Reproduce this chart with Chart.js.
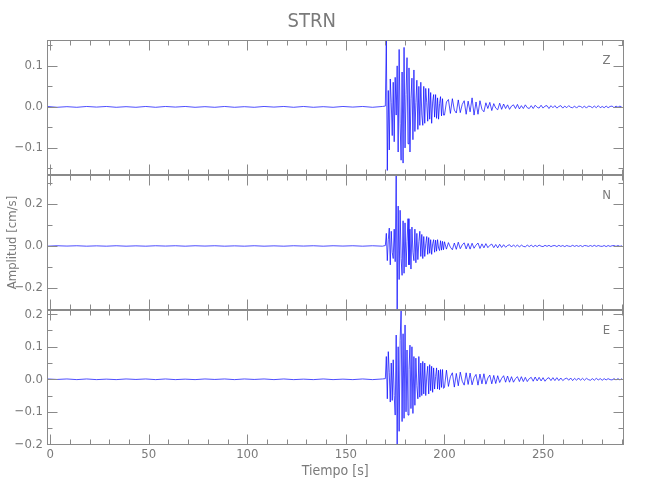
<!DOCTYPE html>
<html>
<head>
<meta charset="utf-8">
<title>STRN</title>
<script src="https://cdn.jsdelivr.net/npm/chart.js@4.4.1/dist/chart.umd.min.js"></script>
<style>
  html, body { margin: 0; padding: 0; background: #fff; }
  #wrap { width: 650px; height: 500px; }
</style>
</head>
<body>
<div id="wrap"><canvas id="sismo"></canvas></div>
<script>
// ---- datos ----
const estacion = 'STRN';
const componentes = ['Z', 'N', 'E'];

// tramos de muestreo: [inicio (s), paso (s)]
const tramoPre = [-1.5, 5];
const tramoFuerte = [170, 0.5];
const tramoCoda = [200, 1];

// Z
const preZ = [0.001,-0.001,0.0005,-0.001,0.001, -0.0005,0.001,-0.001,0.0005,-0.001,
  0.001,-0.001,0.001,-0.0005,0.001, -0.001,0.0005,-0.001,0.001,-0.001,
  0.0005,-0.001,0.001,-0.0005,0.001, -0.001,0.001,-0.001,0.0005,-0.001,
  0.001,-0.0005,0.001,-0.001,0.001];
const fuerteZ = [0.002,0.163,-0.155,0.04,-0.105,0.068,0.01,-0.07,0.06,-0.085,
  0.072,-0.02,0.1,-0.11,0.14,-0.04,-0.13,0.085,-0.137,0.145,
  -0.1,0.03,0.12,-0.09,0.095,-0.11,0.02,0.07,-0.08,0.09,
  -0.06,0.01,0.065,-0.055,0.05,-0.045,0.06,-0.02,-0.045,0.05,
  -0.04,0.045,0.01,-0.035,0.045,-0.03,0.035,-0.04,0.012,0.03,
  -0.025,0.03,-0.028,0.022,-0.03,0.008,0.025,-0.022,0.02,-0.02];
const codaZ = [-0.02,0.012,0.018,-0.016,0.02,-0.008,-0.015,0.017,-0.014,0.006,
  0.015,-0.018,0.014,-0.012,0.022,-0.02,0.012,-0.018,0.015,-0.006,
  -0.012,0.01,-0.004,0.011,-0.009,0.008,-0.003,-0.007,0.009,-0.006,
  0.007,-0.004,0.005,-0.006,0.002,0.005,-0.004,0.006,-0.005,0.003,
  -0.004,0.005,-0.002,-0.004,0.003,-0.004,0.004,-0.001,-0.003,0.004,
  -0.003,0.002,0.003,-0.004,0.003,-0.002,0.003,-0.003,0.001,0.003,
  -0.003,0.002,-0.002,0.003,-0.001,-0.002,0.002,-0.003,0.002,0.001,
  -0.002,0.002,-0.003,0.002,0.001,-0.002,0.002,-0.002,0.003,-0.002,
  0.001,-0.002,0.002,-0.002,0.001,0.002,-0.002,0.002,-0.001,0.002,
  -0.001];

// N
const preN = [-0.001,0.001,-0.0005,0.001,-0.001, 0.0005,-0.001,0.001,-0.001,0.0005,
  -0.001,0.001,-0.0005,0.001,-0.001, 0.001,-0.0005,0.001,-0.001,0.0005,
  -0.001,0.001,-0.001,0.0005,-0.001, 0.001,-0.0005,0.001,-0.001,0.001,
  -0.0005,0.001,-0.001,0.001,-0.001];
const fuerteN = [0.002,0.06,-0.07,0.03,0.085,-0.09,0.07,-0.03,-0.06,0.08,
  -0.075,0.335,-0.303,0.19,-0.16,0.17,-0.06,-0.14,0.12,-0.13,
  0.11,-0.1,0.02,0.13,-0.09,0.08,-0.11,0.09,-0.03,-0.07,
  0.08,-0.08,0.06,-0.065,0.02,0.07,-0.05,0.055,-0.06,0.045,
  -0.05,0.01,0.045,-0.04,0.04,-0.035,0.03,-0.04,0.01,0.03,
  -0.03,0.028,-0.025,0.03,-0.01,-0.022,0.025,-0.02,0.022,-0.018];
const codaN = [0.02,-0.015,0.016,-0.006,-0.018,0.014,-0.016,0.018,-0.013,0.005,
  0.015,-0.014,0.012,-0.015,0.013,-0.011,0.004,0.014,-0.012,0.01,
  -0.009,0.011,-0.008,0.003,0.009,-0.008,0.007,-0.009,0.008,-0.007,
  0.006,-0.006,0.002,0.006,-0.005,0.005,-0.004,0.005,-0.005,0.004,
  -0.002,-0.004,0.004,-0.003,0.004,-0.004,0.003,-0.003,0.004,-0.001,
  -0.003,0.003,-0.002,0.003,-0.003,0.001,0.002,-0.003,0.003,-0.002,
  0.002,-0.003,0.002,-0.001,-0.002,0.003,-0.002,0.002,-0.002,0.002,
  -0.003,0.002,0.001,-0.002,0.002,-0.002,0.003,-0.002,0.002,-0.001,
  -0.002,0.002,-0.003,0.002,-0.002,0.001,0.002,-0.002,0.002,-0.002,
  0.001];

// E
const preE = [0.001,-0.0005,0.001,-0.001,0.001, -0.001,0.0005,-0.001,0.001,-0.0005,
  0.001,-0.001,0.001,-0.001,0.0005, -0.001,0.001,-0.0005,0.001,-0.001,
  0.001,-0.0005,0.001,-0.001,0.001, -0.001,0.0005,-0.001,0.001,-0.001,
  0.0005,-0.001,0.001,-0.001,0.001];
const fuerteE = [0.002,0.07,-0.06,0.085,0.02,-0.07,0.05,-0.065,0.06,-0.05,
  -0.11,0.136,-0.2,0.1,-0.16,0.12,0.21,-0.13,0.14,-0.12,
  0.167,-0.1,0.09,-0.11,0.03,0.105,-0.09,0.1,-0.105,0.07,
  -0.08,0.065,-0.02,-0.06,0.07,-0.055,0.05,-0.05,0.055,-0.045,
  0.05,-0.05,0.01,0.04,-0.045,0.045,-0.035,0.04,-0.04,0.035,
  -0.03,0.008,0.035,-0.03,0.028,-0.032,0.03,-0.025,0.03,-0.028];
const codaE = [-0.025,0.028,-0.022,0.008,0.02,-0.024,0.018,-0.02,0.022,-0.006,
  -0.018,0.02,-0.016,0.019,-0.017,0.005,0.015,-0.018,0.016,-0.014,
  0.017,-0.015,0.004,0.013,-0.014,0.012,-0.013,0.011,-0.01,0.003,
  0.011,-0.009,0.01,-0.009,0.008,-0.009,0.002,0.008,-0.007,0.008,
  -0.007,0.006,-0.007,0.002,0.006,-0.006,0.007,-0.005,0.006,-0.005,
  0.005,-0.006,0.002,0.005,-0.004,0.005,-0.004,0.005,-0.004,0.004,
  -0.004,0.001,0.004,-0.003,0.004,-0.004,0.003,-0.003,0.004,-0.003,
  0.003,-0.003,0.003,-0.001,-0.003,0.002,-0.003,0.003,-0.002,0.002,
  -0.003,0.002,-0.002,0.002,-0.001,-0.002,0.002,-0.002,0.002,-0.002,
  0.002];

// rangos de los ejes
const rangoT = [-1.6, 290.8];
const rangoZ = [-0.166, 0.163];
const rangoN = [-0.305, 0.338];
const rangoE = [-0.202, 0.213];

// marcas
const ticksX = [0, 50, 100, 150, 200, 250];
const menorX = 10;
const ticksZ = [-0.1, 0, 0.1];
const ticksN = [-0.2, 0, 0.2];
const ticksE = [-0.2, -0.1, 0, 0.1, 0.2];
const menorZ = 0.05, menorN = 0.1, menorE = 0.05;

// ---- armado ----
function serie(pre, fuerte, coda) {
  const pts = [];
  pre.forEach((v, i) => pts.push({ x: tramoPre[0] + i * tramoPre[1], y: v }));
  fuerte.forEach((v, i) => pts.push({ x: tramoFuerte[0] + i * tramoFuerte[1], y: v }));
  coda.forEach((v, i) => pts.push({ x: tramoCoda[0] + i * tramoCoda[1], y: v }));
  return pts;
}

const trazas = {
  Z: serie(preZ, fuerteZ, codaZ),
  N: serie(preN, fuerteN, codaN),
  E: serie(preE, fuerteE, codaE)
};
const rangos = { Z: rangoZ, N: rangoN, E: rangoE };
const mayores = { Z: ticksZ, N: ticksN, E: ticksE };
const menores = { Z: menorZ, N: menorN, E: menorE };

const gris = '#8a8a8a';
const grisTexto = '#7a7a7a';
const fuente = "'Liberation Sans Narrow', 'DejaVu Sans Condensed', 'Liberation Sans', sans-serif";

function etiqueta(v) {
  const s = Number(v).toFixed(1);
  return s.charAt(0) === '-' ? '\u2212' + s.slice(1) : s;
}

function ejeY(c, peso, conTitulo) {
  return {
    type: 'linear',
    position: 'left',
    stack: 'sismo',
    stackWeight: 1,
    weight: peso,
    min: rangos[c][0],
    max: rangos[c][1],
    afterBuildTicks: s => { s.ticks = mayores[c].map(v => ({ value: v })); },
    afterFit: s => { s.width = 47; },
    grid: { display: false, drawTicks: false },
    border: { display: false },
    ticks: {
      color: grisTexto,
      padding: 4,
      font: { family: fuente, size: 13 },
      callback: v => etiqueta(v)
    },
    title: {
      display: conTitulo,
      text: 'Amplitud [cm/s]',
      color: grisTexto,
      font: { family: fuente, size: 13 },
      padding: { top: 5, bottom: 0 }
    }
  };
}

// marco, marcas interiores y nombre de componente en cada panel
const marco = {
  id: 'marco',
  afterDatasetsDraw(chart) {
    const ctx = chart.ctx;
    const a = chart.chartArea;
    const sx = chart.scales.x;
    const izq = Math.round(a.left) + 0.5;
    const der = Math.round(a.right) - 0.5;

    function linea(x1, y1, x2, y2) {
      ctx.beginPath();
      ctx.moveTo(x1, y1);
      ctx.lineTo(x2, y2);
      ctx.stroke();
    }

    ctx.save();
    ctx.strokeStyle = gris;
    ctx.lineWidth = 1;

    componentes.forEach(c => {
      const s = chart.scales['y' + c];
      const arriba = Math.round(s.top) + 0.5;
      const abajo = Math.round(s.bottom) - 0.5;

      ctx.strokeRect(izq, arriba, der - izq, abajo - arriba);

      // marcas de tiempo arriba y abajo
      for (let v = Math.ceil(sx.min / menorX) * menorX; v <= sx.max; v += menorX) {
        const px = Math.round(sx.getPixelForValue(v)) + 0.5;
        const largo = ticksX.includes(v) ? 10 : 5;
        linea(px, arriba, px, arriba + largo);
        linea(px, abajo, px, abajo - largo);
      }

      // marcas de amplitud izquierda y derecha
      const paso = menores[c];
      const k0 = Math.ceil(s.min / paso - 1e-6);
      const k1 = Math.floor(s.max / paso + 1e-6);
      for (let k = k0; k <= k1; k++) {
        const v = k * paso;
        const py = Math.round(s.getPixelForValue(v)) + 0.5;
        const mayor = mayores[c].some(m => Math.abs(m - v) < 1e-6);
        const largo = mayor ? 10 : 5;
        linea(izq, py, izq + largo, py);
        linea(der, py, der - largo, py);
      }

      ctx.fillStyle = grisTexto;
      ctx.font = '13px ' + fuente;
      ctx.textAlign = 'center';
      ctx.textBaseline = 'middle';
      ctx.fillText(c, a.right - 17, s.top + 21);
    });
    ctx.restore();
  }
};

new Chart(document.getElementById('sismo'), {
  type: 'line',
  data: {
    datasets: componentes.map(c => ({
      label: c,
      data: trazas[c],
      yAxisID: 'y' + c,
      borderColor: '#0000ff',
      borderWidth: 0.7,
      pointRadius: 0,
      fill: false,
      tension: 0
    }))
  },
  options: {
    responsive: true,
    maintainAspectRatio: false,
    animation: false,
    events: [],
    layout: { padding: { left: 0, right: 26.5, top: 0, bottom: 15 } },
    plugins: {
      legend: { display: false },
      tooltip: { enabled: false },
      title: {
        display: true,
        text: estacion,
        color: grisTexto,
        font: { family: fuente, size: 20, weight: 'normal' },
        padding: { top: 10, bottom: 6 }
      }
    },
    scales: {
      x: {
        type: 'linear',
        min: rangoT[0],
        max: rangoT[1],
        afterBuildTicks: s => { s.ticks = ticksX.map(v => ({ value: v })); },
        afterFit: s => { s.height = 40; },
        grid: { display: false, drawTicks: false },
        border: { display: false },
        ticks: {
          color: grisTexto,
          padding: 2,
          maxRotation: 0,
          autoSkip: false,
          font: { family: fuente, size: 13 },
          callback: v => String(v)
        },
        title: {
          display: true,
          text: 'Tiempo [s]',
          color: grisTexto,
          font: { family: fuente, size: 14 },
          padding: { top: 0, bottom: 5 }
        }
      },
      yZ: ejeY('Z', 3, false),
      yN: ejeY('N', 2, true),
      yE: ejeY('E', 1, false)
    }
  },
  plugins: [marco]
});
</script>
</body>
</html>
